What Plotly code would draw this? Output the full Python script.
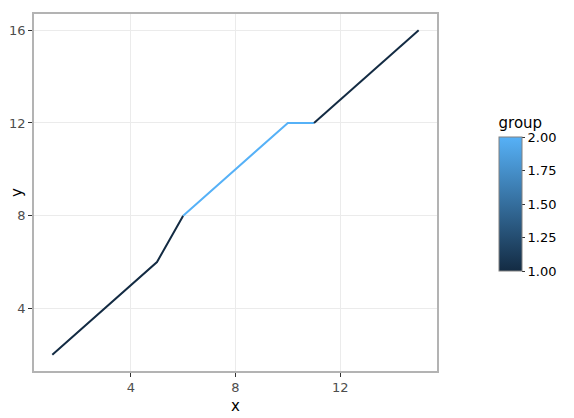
import plotly.graph_objects as go

x = list(range(1, 16))
y = [2, 3, 4, 5, 6, 8, 9, 10, 11, 12, 12, 13, 14, 15, 16]
group = [1, 1, 1, 1, 1, 2, 2, 2, 2, 2, 1, 1, 1, 1, 1]

low_col = '#132B43'
high_col = '#56B1F7'
font = 'DejaVu Sans'

fig = go.Figure()

# like geom_line: each segment takes the colour of its start point
i = 0
while i < len(x) - 1:
    j = i
    while j < len(x) - 1 and group[j] == group[i]:
        j += 1
    col = low_col if group[i] == 1 else high_col
    fig.add_trace(go.Scatter(x=x[i:j + 1], y=y[i:j + 1], mode='lines',
                             line=dict(color=col, width=2), showlegend=False,
                             hoverinfo='skip'))
    i = j

# dummy trace for the colour bar
fig.add_trace(go.Scatter(
    x=[None], y=[None], mode='markers', showlegend=False,
    marker=dict(color=[1, 2], cmin=1, cmax=2,
                colorscale=[[0, low_col], [1, high_col]], showscale=True,
                colorbar=dict(
                    title=dict(text='group', side='top', font=dict(size=15, color='black', family=font)),
                    lenmode='pixels', len=157, thickness=23,
                    x=1.154, xanchor='left', xpad=0,
                    y=0.5, yanchor='middle', ypad=0,
                    outlinecolor='#808080', outlinewidth=1,
                    tick0=1, dtick=0.25, tickformat='.2f',
                    ticks='outside', ticklen=3, tickcolor='#333333',
                    tickfont=dict(size=13, color='black', family=font)))))

axis_common = dict(showgrid=True, gridcolor='#ebebeb', gridwidth=1,
                   showline=True, linecolor='#b3b3b3', linewidth=1.5, mirror=True,
                   ticks='outside', ticklen=4, tickcolor='#333333',
                   tickfont=dict(size=13, color='#4d4d4d', family=font),
                   zeroline=False, automargin=True)

fig.update_xaxes(range=[0.3, 15.7], tickvals=[4, 8, 12],
                 title=dict(text='x', font=dict(size=15, color='black', family=font), standoff=6),
                 **axis_common)
fig.update_yaxes(range=[1.3, 16.7], tickvals=[4, 8, 12, 16],
                 title=dict(text='y', font=dict(size=15, color='black', family=font), standoff=14),
                 **axis_common)

# page has an 8px body margin, so the figure is a bit smaller than the window
fig.update_layout(width=566, height=410,
                  margin=dict(l=26, r=137, t=6, b=47, autoexpand=False),
                  plot_bgcolor='white', paper_bgcolor='white',
                  font=dict(family=font))

fig.write_html("out.html")
